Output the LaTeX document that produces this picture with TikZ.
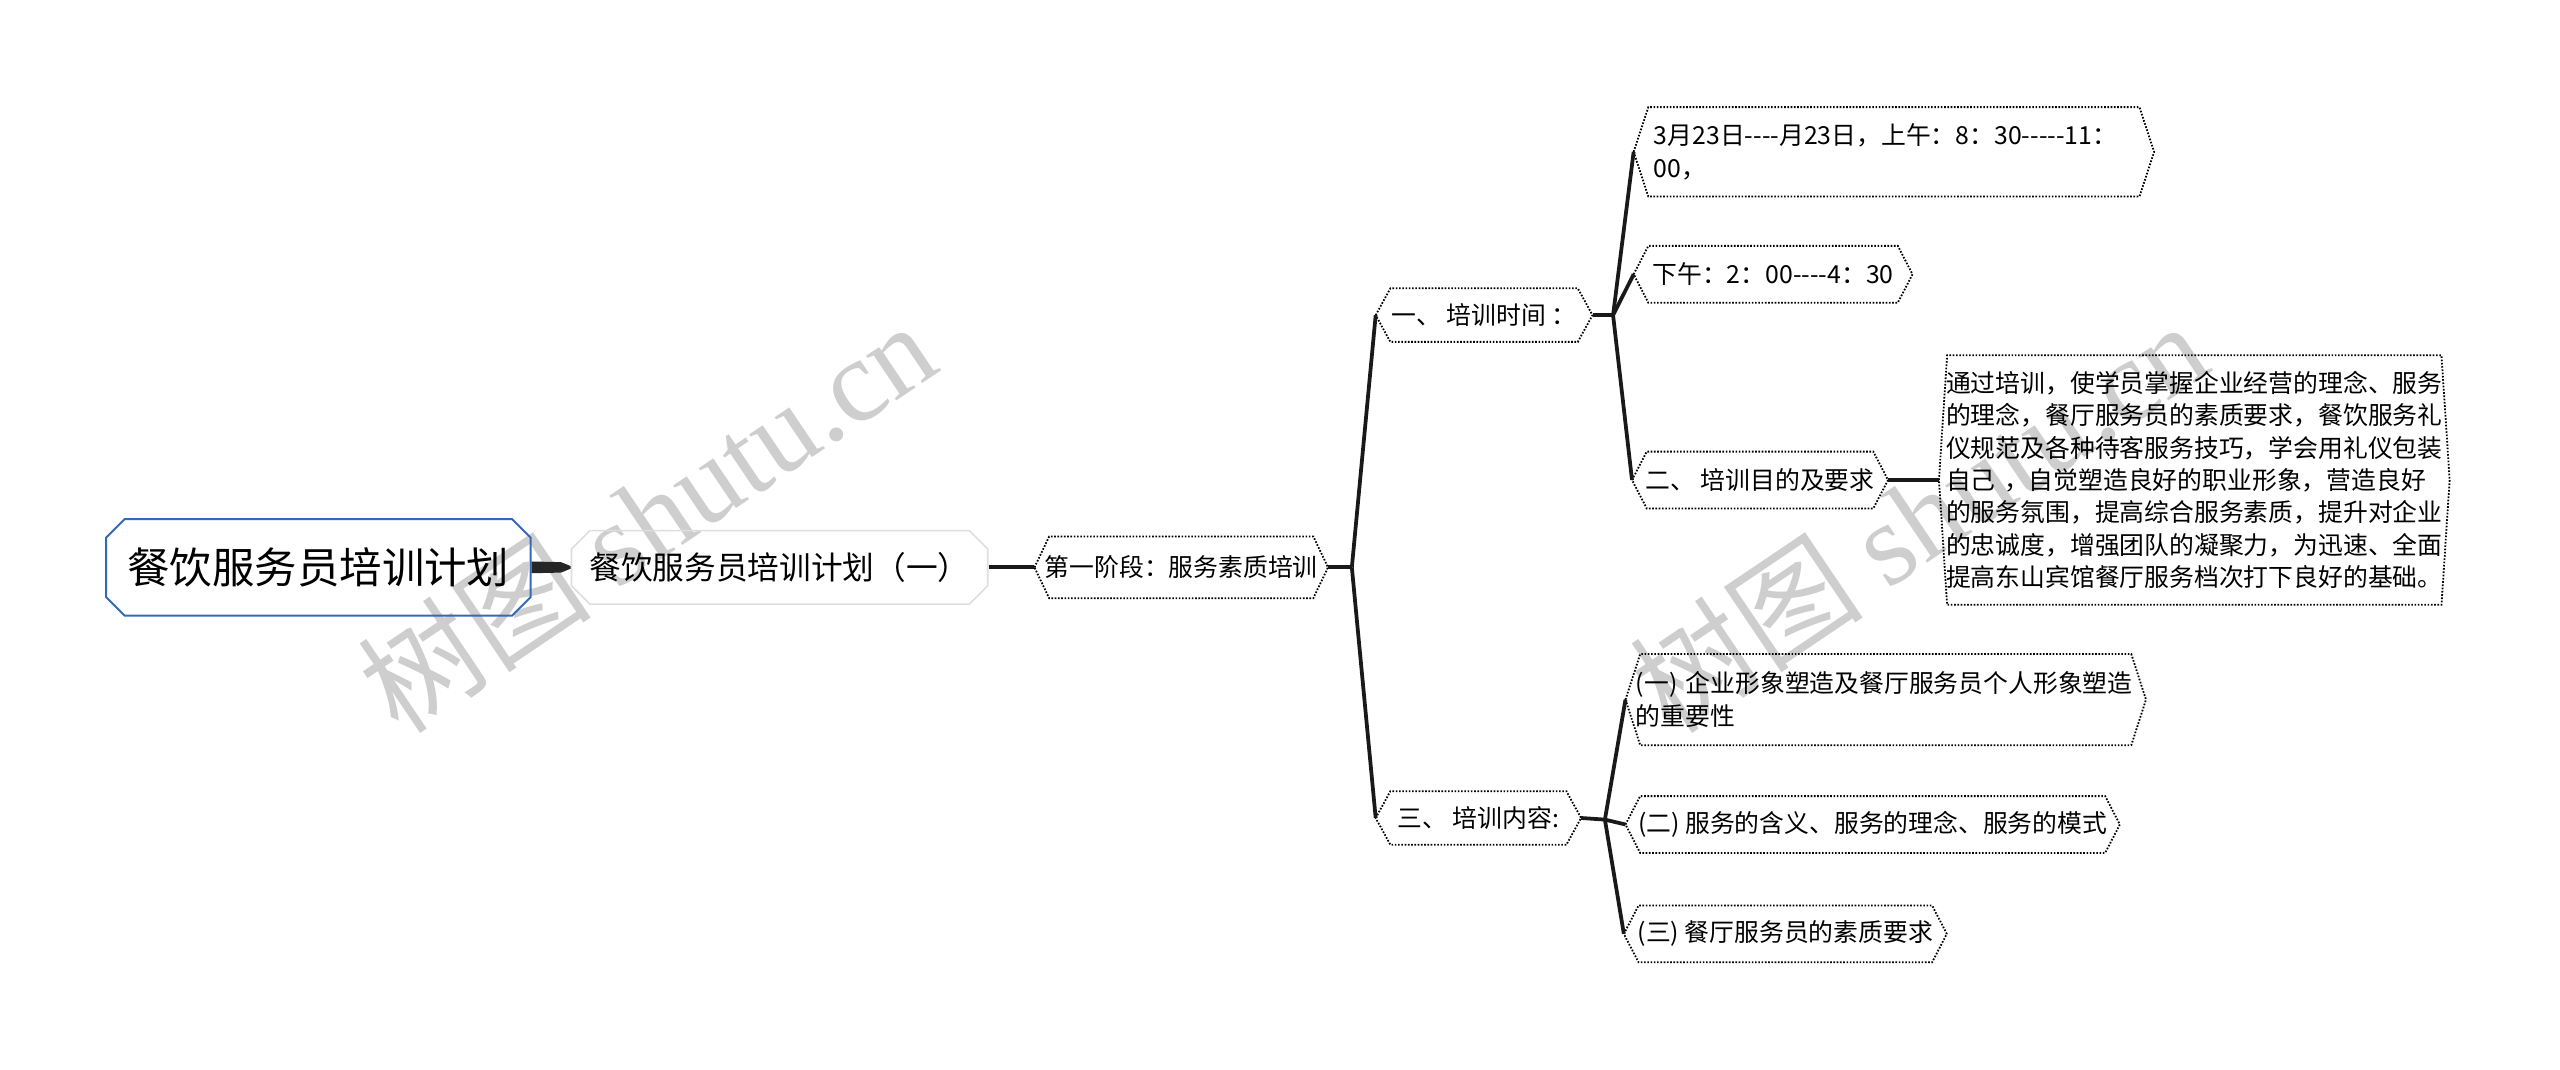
\documentclass[tikz,border=0pt]{standalone}
\usepackage{fontspec}
\setmainfont{Noto Sans CJK SC}
\newfontfamily\wmserif{Liberation Serif}
\usepackage{tikz}
\usetikzlibrary{positioning,shapes.misc}
\definecolor{rootblue}{HTML}{3468B8}
\definecolor{planline}{HTML}{DEDEDE}
\definecolor{wmgrey}{HTML}{CECECE}
\newcommand{\leaffont}{\fontsize{7.6}{9.9}\selectfont}
\newcommand{\hy}{-\kern0pt}

\tikzset{
  link/.style={line width=1.15pt, black!90},
  hexline/.style={line width=.55pt, dash pattern=on .5pt off .5pt},
  leaf/.style={inner sep=0pt, minimum height=17pt, font=\leaffont},
  rootbox/.style={chamfered rectangle, chamfered rectangle xsep=2pt, draw=rootblue, line width=.6pt, inner sep=0pt, minimum width=130pt, minimum height=29.5pt, font=\fontsize{13}{15.6}\selectfont},
  planbox/.style={chamfered rectangle, chamfered rectangle xsep=2pt, draw=planline, line width=.5pt, inner sep=0pt, minimum width=127.5pt, minimum height=22.5pt, font=\fontsize{9.7}{12}\selectfont},
  wmark/.style={wmgrey, rotate=34, inner sep=0pt, font=\fontsize{36}{40}\selectfont},
}

\begin{document}
\begin{tikzpicture}[x=0.5pt,y=-0.5pt]
\useasboundingbox (0,0) rectangle (1568,655);
% watermark
\node[wmark] (wmleft) at (396,316) {树图 {\wmserif shutu.cn}};
\node[wmark] (wmright) at (1175,316) {树图 {\wmserif shutu.cn}};
% main nodes
\node[rootbox] (root) at (195,347.5) {餐饮服务员培训计划};
\node[planbox] (plan) at (477.5,347.5) {餐饮服务员培训计划（一）};
\node[leaf, minimum width=89.5pt, minimum height=18.5pt] (stage) at (723.5,347.5) {第一阶段：服务素质培训};
\node[leaf, minimum width=66pt, minimum height=16pt] (time) at (909,193) {一、 培训时间 ：};
\node[leaf, minimum width=62.5pt, minimum height=16pt] (content) at (905.5,501) {三、 培训内容:};
% time branch
\node[leaf, minimum width=159pt, minimum height=27pt, text width=147pt, align=left] (timeA) at (1160,93) {3月23日\hy\hy\hy\hy 月23日，上午：8：30\hy\hy\hy\hy\hy 11：\\00，};
\node[leaf, minimum width=85pt] (timeB) at (1086,168) {下午：2：00\hy\hy\hy\hy 4：30};
\node[leaf, minimum width=78pt] (goal) at (1078,294) {二、 培训目的及要求};
\node[leaf, minimum width=156pt, minimum height=76pt, text width=152pt, align=left] (goaltext) at (1344,294) {通过培训，使学员掌握企业经营的理念、服务\\的理念，餐厅服务员的素质要求，餐饮服务礼\\仪规范及各种待客服务技巧，学会用礼仪包装\\自己 ，自觉塑造良好的职业形象，营造良好\\的服务氛围，提高综合服务素质，提升对企业\\的忠诚度，增强团队的凝聚力，为迅速、全面\\提高东山宾馆餐厅服务档次打下良好的基础。};
% content branch
\node[leaf, minimum width=159pt, minimum height=27.5pt, text width=158pt, align=left] (itemA) at (1155,428.5) {\hspace*{2.5pt}(一) 企业形象塑造及餐厅服务员个人形象塑造\\\hspace*{2.5pt}的重要性};
\node[leaf, minimum width=151pt] (itemB) at (1147,505) {(二) 服务的含义、服务的理念、服务的模式};
\node[leaf, minimum width=98.5pt] (itemC) at (1093.5,572) {(三) 餐厅服务员的素质要求};
% hexagon outlines
\foreach \n/\d in {stage/4.5pt,time/4.5pt,content/4.5pt,timeA/4.5pt,timeB/4.5pt,goal/4.5pt,goaltext/2.5pt,itemA/4.5pt,itemB/4.5pt,itemC/4.5pt}
  \draw[hexline] (\n.west) -- ([xshift=\d]\n.north west) -- ([xshift=-\d]\n.north east) -- (\n.east) -- ([xshift=-\d]\n.south east) -- ([xshift=\d]\n.south west) -- cycle;
% junctions
\coordinate (s1) at (828,347.5);
\coordinate (j1) at (988,193);
\coordinate (j3) at (983,502);
% connectors
\fill[black!85] ([yshift=-1.8pt]root.east) -- ([xshift=9pt,yshift=-1.6pt]root.east) -- ([yshift=-.4pt]plan.west) -- ([yshift=.4pt]plan.west) -- ([xshift=9pt,yshift=1.6pt]root.east) -- ([yshift=1.8pt]root.east) -- cycle;
\draw[link] (plan.east) -- (stage.west);
\draw[link] (stage.east) -- (s1);
\draw[link] (s1) -- (time.west);
\draw[link] (s1) -- (content.west);
\draw[link] (time.east) -- (j1);
\draw[link] (j1) -- (timeA.west);
\draw[link] (j1) -- (timeB.west);
\draw[link] (j1) -- (goal.west);
\draw[link] (goal.east) -- (goaltext.west);
\draw[link] (content.east) -- (j3);
\draw[link] (j3) -- (itemA.west);
\draw[link] (j3) -- (itemB.west);
\draw[link] (j3) -- (itemC.west);
\end{tikzpicture}
\end{document}
